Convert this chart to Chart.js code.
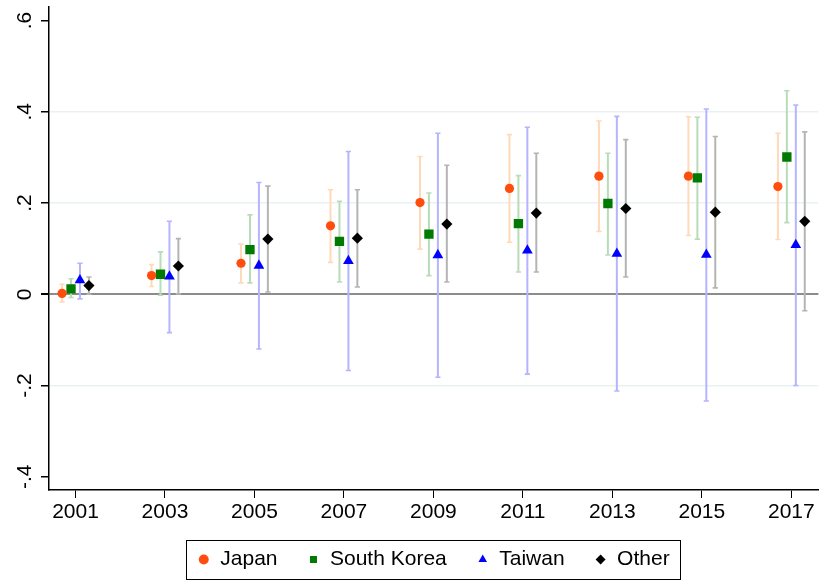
<!DOCTYPE html>
<html>
<head>
<meta charset="utf-8">
<script src="https://cdn.jsdelivr.net/npm/chart.js@4"></script>
<style>
  html, body { margin: 0; padding: 0; background: #fff; }
  #wrap { width: 825px; height: 584px; }
</style>
</head>
<body>
<div id="wrap"><canvas id="chart" width="825" height="584"></canvas></div>
<script>
const years = [2001, 2003, 2005, 2007, 2009, 2011, 2013, 2015, 2017];
const yTicks = [-0.4, -0.2, 0, 0.2, 0.4, 0.6];
const yTickLabels = ["-.4", "-.2", "0", ".2", ".4", ".6"];

const japanCoef = [0.002, 0.041, 0.068, 0.150, 0.201, 0.232, 0.259, 0.259, 0.236];
const japanLow = [-0.017, 0.017, 0.025, 0.070, 0.099, 0.114, 0.138, 0.129, 0.120];
const japanHigh = [0.022, 0.065, 0.110, 0.229, 0.302, 0.350, 0.380, 0.389, 0.353];

const koreaCoef = [0.012, 0.044, 0.098, 0.116, 0.132, 0.155, 0.199, 0.255, 0.301];
const koreaLow = [-0.007, -0.002, 0.025, 0.027, 0.041, 0.049, 0.086, 0.121, 0.157];
const koreaHigh = [0.034, 0.093, 0.174, 0.204, 0.222, 0.260, 0.309, 0.388, 0.446];

const taiwanCoef = [0.031, 0.039, 0.063, 0.073, 0.086, 0.096, 0.089, 0.087, 0.108];
const taiwanLow = [-0.010, -0.084, -0.120, -0.167, -0.182, -0.175, -0.212, -0.234, -0.200];
const taiwanHigh = [0.068, 0.160, 0.245, 0.313, 0.353, 0.366, 0.390, 0.406, 0.415];

const otherCoef = [0.019, 0.062, 0.121, 0.123, 0.154, 0.178, 0.188, 0.180, 0.160];
const otherLow = [0.000, 0.001, 0.005, 0.016, 0.027, 0.049, 0.038, 0.014, -0.036];
const otherHigh = [0.038, 0.122, 0.237, 0.229, 0.283, 0.309, 0.339, 0.346, 0.356];

const FONT = "'Liberation Sans', Arial, sans-serif";

// one entry per group: label, offset from the year, marker and colours
const groups = [
  { label: "Japan", coef: japanCoef, low: japanLow, high: japanHigh, shift: -0.3,
    style: "circle", radius: 4.6, color: "#ff4d0d", ciColor: "#ffd9b8" },
  { label: "South Korea", coef: koreaCoef, low: koreaLow, high: koreaHigh, shift: -0.1,
    style: "rect", radius: 6.6, color: "#007a00", ciColor: "#b8dcb8" },
  { label: "Taiwan", coef: taiwanCoef, low: taiwanLow, high: taiwanHigh, shift: 0.1,
    style: "triangle", radius: 6.2, color: "#0000ff", ciColor: "#b4b4ff" },
  { label: "Other", coef: otherCoef, low: otherLow, high: otherHigh, shift: 0.3,
    style: "rectRot", radius: 5.6, color: "#000000", ciColor: "#b4b4b4" },
];

function ciData(g) {
  return years.flatMap((yr, i) => [
    { x: yr + g.shift, y: g.low[i] },
    { x: yr + g.shift, y: g.high[i] },
    { x: yr + g.shift, y: null },
  ]);
}

const ciSets = groups.map((g) => ({
  label: g.label + " CI",
  isCI: true,
  data: ciData(g),
  showLine: true,
  spanGaps: false,
  borderColor: g.ciColor,
  backgroundColor: g.ciColor,
  borderWidth: 2,
  pointStyle: "line",
  pointRadius: 2.6,
  pointBorderWidth: 1.6,
  pointBorderColor: g.ciColor,
  order: 2,
}));

const pointSets = groups.map((g) => ({
  label: g.label,
  data: years.map((yr, i) => ({ x: yr + g.shift, y: g.coef[i] })),
  showLine: false,
  pointStyle: g.style,
  pointRadius: g.radius,
  backgroundColor: g.color,
  borderColor: g.color,
  borderWidth: 0,
  order: 1,
}));

const legendBox = {
  id: "legendBox",
  afterDraw(chart) {
    const boxes = chart.legend.legendHitBoxes;
    if (!boxes || !boxes.length) return;
    const left = Math.min(...boxes.map((b) => b.left)) - 12;
    const right = Math.max(...boxes.map((b) => b.left + b.width)) + 10;
    const top = Math.min(...boxes.map((b) => b.top)) - 9;
    const bottom = Math.max(...boxes.map((b) => b.top + b.height)) + 9;
    const ctx = chart.ctx;
    ctx.save();
    ctx.strokeStyle = "#000";
    ctx.lineWidth = 1;
    ctx.strokeRect(Math.round(left) + 0.5, Math.round(top) + 0.5, Math.round(right - left), Math.round(bottom - top));
    ctx.restore();
  },
};

new Chart(document.getElementById("chart"), {
  type: "scatter",
  data: { datasets: [...ciSets, ...pointSets] },
  plugins: [legendBox],
  options: {
    responsive: false,
    animation: false,
    layout: { padding: { top: 5, right: 0, bottom: 4, left: 0 } },
    plugins: {
      tooltip: { enabled: false },
      legend: {
        position: "bottom",
        fullSize: false,
        labels: {
          filter: (item, data) => !data.datasets[item.datasetIndex].isCI,
          usePointStyle: true,
          boxWidth: 12,
          boxHeight: 7,
          padding: 30,
          color: "#000",
          font: { family: FONT, size: 21 },
        },
      },
    },
    scales: {
      x: {
        type: "linear",
        min: 2000.408,
        max: 2017.605,
        afterBuildTicks: (axis) => {
          axis.ticks = years.map((v) => ({ value: v }));
        },
        afterFit: (scale) => {
          scale.height = 29;
          scale.paddingLeft = 0;
          scale.paddingRight = 0;
        },
        border: { color: "#000", width: 1.5 },
        grid: {
          drawOnChartArea: false,
          drawTicks: true,
          tickLength: 8,
          tickColor: "#000",
        },
        ticks: {
          color: "#000",
          padding: 2,
          maxRotation: 0,
          font: { family: FONT, size: 21 },
          callback: (v) => String(v),
        },
      },
      y: {
        min: -0.429,
        max: 0.6306,
        afterBuildTicks: (axis) => {
          axis.ticks = yTicks.map((v) => ({ value: v }));
        },
        afterFit: (scale) => {
          scale.width = 49;
          scale.paddingTop = 0;
          scale.paddingBottom = 0;
        },
        border: { color: "#000", width: 1.5 },
        grid: {
          color: (ctx) => {
            const v = ctx.tick && ctx.tick.value;
            if (v === 0) return "#8c8c8c";
            if (v === 0.6 || v === -0.4) return "rgba(0,0,0,0)";
            return "#e9f1f2";
          },
          lineWidth: (ctx) => (ctx.tick && ctx.tick.value === 0 ? 2 : 1.5),
          drawTicks: true,
          tickLength: 8,
          tickColor: "#000",
        },
        ticks: {
          color: "#000",
          padding: 4,
          minRotation: 90,
          maxRotation: 90,
          crossAlign: "center",
          font: { family: FONT, size: 21 },
          callback: (v) => {
            const i = yTicks.findIndex((t) => Math.abs(t - v) < 1e-9);
            return i >= 0 ? yTickLabels[i] : "";
          },
        },
      },
    },
  },
});
</script>
</body>
</html>
